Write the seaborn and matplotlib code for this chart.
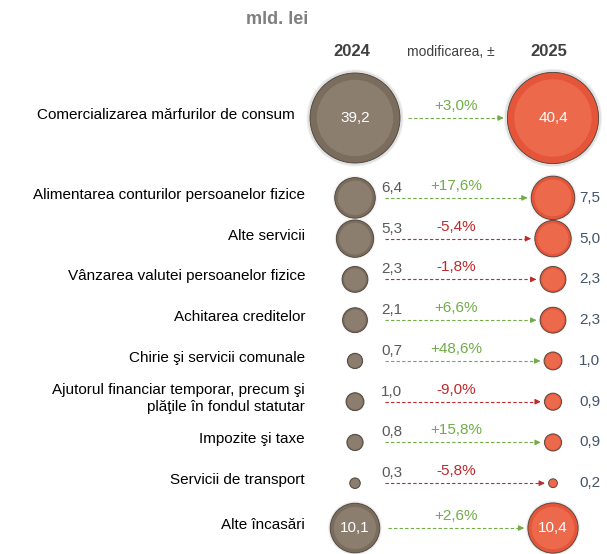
from matplotlib import pyplot as plt

import numpy as np
import pandas as pd
import seaborn as sns

# Data (mld. lei)
categories = ['Comercializarea mărfurilor de consum',
              'Alimentarea conturilor persoanelor fizice',
              'Alte servicii',
              'Vânzarea valutei persoanelor fizice',
              'Achitarea creditelor',
              'Chirie şi servicii comunale',
              'Ajutorul financiar temporar, precum şi\nplăţile în fondul statutar',
              'Impozite şi taxe',
              'Servicii de transport',
              'Alte încasări']
val_2024 = [39.2, 6.4, 5.3, 2.3, 2.1, 0.7, 1.0, 0.8, 0.3, 10.1]
val_2025 = [40.4, 7.5, 5.0, 2.3, 2.3, 1.0, 0.9, 0.9, 0.2, 10.4]
change_pct = [3.0, 17.6, -5.4, -1.8, 6.6, 48.6, -9.0, 15.8, -5.8, 2.6]
years = ['2024', '2025']

# Layout
PX_X = 198.0   # pixels per x unit (distance between the two bubble columns)
PX_Y = 40.76   # pixels per row unit
gaps = [1.96] + [1.0] * 7 + [1.1]
ypos = np.concatenate([[0.0], np.cumsum(gaps)])

BROWN = '#7A6D5E'
BROWN_LIGHT = '#9A8D7C'
RED = '#E4553A'
RED_LIGHT = '#F37A5C'
GREEN = '#70AD47'
DARKRED = '#C0292B'
BLUE_TXT = '#44546A'
GREY_TXT = '#595959'


def fmt(v):
    return f'{v:.1f}'.replace('.', ',')


def area(v):
    # bubble area in pt^2, slightly compressed scale like the original
    return 4200 * (v / 39.2) ** 0.88


def radius_px(v):
    return np.sqrt(area(v)) / 2 / 0.72


rows = []
for i in range(len(categories)):
    rows.append({'x': 0, 'y': ypos[i], 'year': years[0], 'value': val_2024[i], 'area': area(val_2024[i])})
    rows.append({'x': 1, 'y': ypos[i], 'year': years[1], 'value': val_2025[i], 'area': area(val_2025[i])})
df = pd.DataFrame(rows)

sns.set_style('white')
plt.rcParams['font.family'] = ['Liberation Sans', 'DejaVu Sans']

fig = plt.figure(figsize=(6.07, 5.54), dpi=100)
ax = fig.add_axes([0, 0, 1, 1])
ax.set_xlim(-355 / PX_X, (607 - 355) / PX_X)
ax.set_ylim((554 - 118) / PX_Y, -118 / PX_Y)
ax.axis('off')

amin, amax = df['area'].min(), df['area'].max()

# halo
k = 1.14
halo = df.assign(area=df['area'] * k)
sns.scatterplot(data=halo, x='x', y='y', size='area', sizes=(amin * k, amax * k),
                size_norm=(amin * k, amax * k), color='#DADADA', edgecolor='#F4F4F4',
                linewidth=0.8, alpha=0.8, legend=False, ax=ax, zorder=1)
# main bubbles
sns.scatterplot(data=df, x='x', y='y', hue='year', palette={'2024': BROWN, '2025': RED},
                size='area', sizes=(amin, amax), size_norm=(amin, amax),
                edgecolor='#4A4036', linewidth=0.6, legend=False, ax=ax, zorder=2)
# inner highlight
inner = df.assign(area=df['area'] * 0.72)
sns.scatterplot(data=inner, x='x', y='y', hue='year', palette={'2024': BROWN_LIGHT, '2025': RED_LIGHT},
                size='area', sizes=(amin * 0.72, amax * 0.72), size_norm=(amin * 0.72, amax * 0.72),
                linewidth=0, alpha=0.55, legend=False, ax=ax, zorder=3)

for i, cat in enumerate(categories):
    y = ypos[i]
    v0, v1, c = val_2024[i], val_2025[i], change_pct[i]
    big = v0 >= 10
    lab_x = (-60 if i == 0 else -50) / PX_X
    ax.text(lab_x, y - 3 / PX_Y, cat, ha='right', va='center', fontsize=11,
            color='black', linespacing=1.3)

    if big:
        ax.text(0, y, fmt(v0), ha='center', va='center', fontsize=11, color='white', zorder=5)
        ax.text(1, y, fmt(v1), ha='center', va='center', fontsize=11, color='white', zorder=5)
    else:
        ax.text(26 / PX_X, y - 10 / PX_Y, fmt(v0), ha='left', va='center', fontsize=11,
                color=GREY_TXT, zorder=5)
        ax.text(1 + 26 / PX_X, y, fmt(v1), ha='left', va='center', fontsize=11,
                color=BLUE_TXT, zorder=5)

    col = GREEN if c >= 0 else DARKRED
    ax.text(101 / PX_X, y - 12 / PX_Y, f'{c:+.1f}%'.replace('.', ','), ha='center', va='center',
            fontsize=11, color=col, zorder=5)

    x_start = max(radius_px(v0) + 8, 30) / PX_X
    x_end = 1 - (radius_px(v1) + 1) / PX_X
    ax.plot([x_start, x_end - 6 / PX_X], [y, y], color=col, lw=0.8, ls=(0, (3, 2)), zorder=4)
    ax.annotate('', xy=(x_end, y), xytext=(x_end - 8 / PX_X, y),
                arrowprops=dict(arrowstyle='-|>', color=col, lw=0.8, mutation_scale=8),
                zorder=4)

# headers
hy = -66 / PX_Y
ax.text(-3 / PX_X, hy, years[0], ha='center', va='center', fontsize=12, fontweight='bold', color='#404040')
ax.text(96 / PX_X, hy, 'modificarea, ±', ha='center', va='center', fontsize=10, color='#404040')
ax.text(1 - 4 / PX_X, hy, years[1], ha='center', va='center', fontsize=12, fontweight='bold', color='#404040')
ax.text(-78 / PX_X, -98 / PX_Y, 'mld. lei', ha='center', va='center', fontsize=13,
        fontweight='bold', color='#7F7F7F')

fig.savefig('out.png', dpi=100)
